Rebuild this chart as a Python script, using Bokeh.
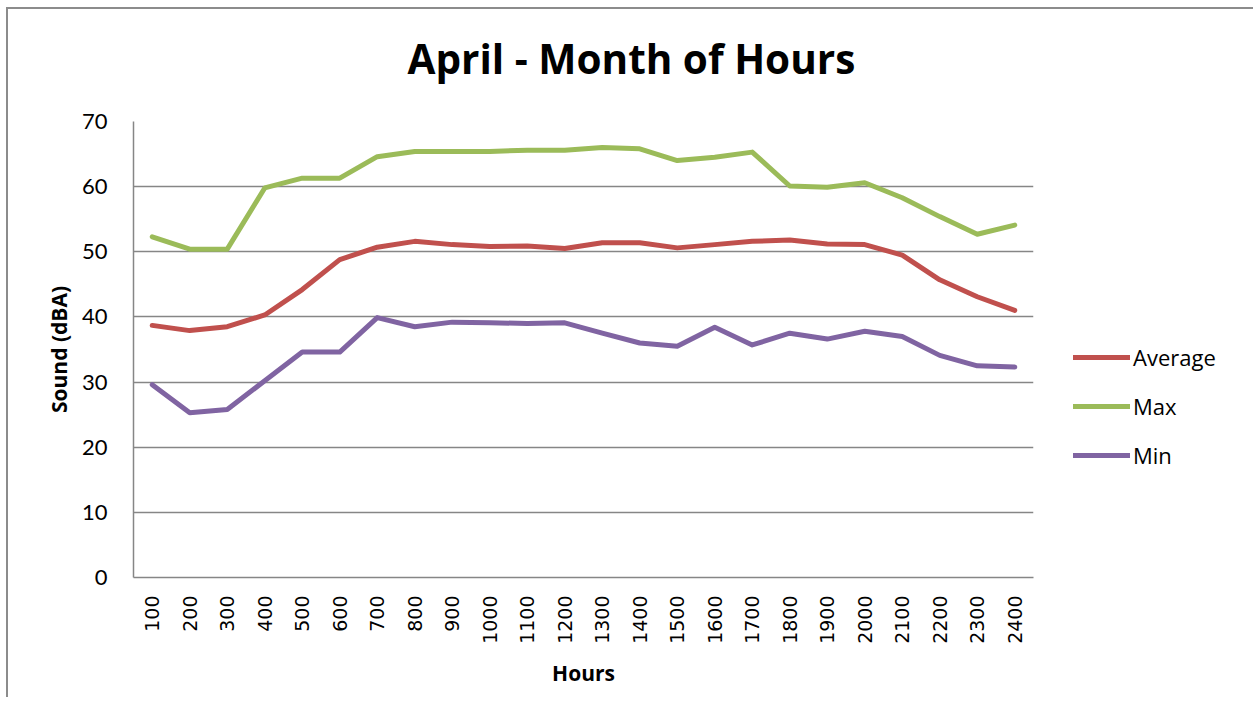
from bokeh.plotting import figure
from bokeh.models import Range1d, FactorRange, Legend, LegendItem, Title, SingleIntervalTicker
from bokeh.embed import file_html
from bokeh.resources import INLINE
import math

hours = ["100", "200", "300", "400", "500", "600", "700", "800", "900", "1000", "1100", "1200",
         "1300", "1400", "1500", "1600", "1700", "1800", "1900", "2000", "2100", "2200", "2300", "2400"]
average = [38.7, 37.9, 38.5, 40.3, 44.2, 48.8, 50.7, 51.6, 51.1, 50.8, 50.9, 50.5,
           51.4, 51.4, 50.6, 51.1, 51.6, 51.8, 51.2, 51.1, 49.5, 45.7, 43.1, 41.0]
maximum = [52.3, 50.4, 50.4, 59.8, 61.3, 61.3, 64.6, 65.4, 65.4, 65.4, 65.6, 65.6,
           66.0, 65.8, 64.0, 64.5, 65.3, 60.1, 59.9, 60.6, 58.3, 55.4, 52.7, 54.1]
minimum = [29.6, 25.3, 25.8, 30.2, 34.6, 34.6, 39.9, 38.5, 39.2, 39.1, 39.0, 39.1,
           37.5, 36.0, 35.5, 38.4, 35.7, 37.5, 36.6, 37.8, 37.0, 34.1, 32.5, 32.3]
series_names = ["Average", "Max", "Min"]
colors = ["#C0504D", "#9BBB59", "#8064A2"]
title_text = "April - Month of Hours"

p = figure(x_range=FactorRange(factors=hours, range_padding=0),
           y_range=Range1d(0, 70),
           frame_width=900, frame_height=456,
           min_border_left=125, min_border_right=190, min_border_top=100, min_border_bottom=120,
           output_backend="svg", toolbar_location=None, title=None)
p.outline_line_color = None
p.background_fill_color = "white"
p.border_fill_color = "white"
p.styles = {"border-left": "2px solid #8c8c8c", "border-top": "2px solid #8c8c8c",
            "margin-left": "6px", "margin-top": "7px"}

# axes
p.yaxis.ticker = SingleIntervalTicker(interval=10)
for ax in (p.xaxis[0], p.yaxis[0]):
    ax.axis_line_color = "#868686"
    ax.axis_line_width = 1.5
    ax.major_tick_in = 0
    ax.major_tick_out = 0
    ax.minor_tick_in = 0
    ax.minor_tick_out = 0
    ax.major_label_text_color = "black"
    ax.axis_label_text_color = "black"
    ax.axis_label_text_font = "Open Sans"
    ax.axis_label_text_font_style = "bold"
    ax.axis_label_text_font_size = "21px"

p.yaxis.major_label_text_font = "Lato"
p.yaxis.major_label_text_font_size = "22px"
p.yaxis.major_label_standoff = 26
p.yaxis.axis_label = "Sound (dBA)"
p.yaxis.axis_label_standoff = 6

p.xaxis.major_label_text_font = "DejaVu Sans"
p.xaxis.major_label_text_font_size = "19px"
p.xaxis.major_label_orientation = math.pi / 2
p.xaxis.major_label_standoff = 18
p.xaxis.axis_label = "Hours"
p.xaxis.axis_label_standoff = 12

p.xgrid.grid_line_color = None
p.ygrid.grid_line_color = "#868686"
p.ygrid.grid_line_width = 1.5

renderers = []
for vals, name, col in zip([average, maximum, minimum], series_names, colors):
    r = p.line(hours, vals, line_color=col, line_width=5, line_join="round", line_cap="round")
    renderers.append(r)

legend = Legend(items=[LegendItem(label=n, renderers=[r]) for n, r in zip(series_names, renderers)],
                location=(40, 107), orientation="vertical",
                glyph_width=57, glyph_height=24, label_height=24, spacing=19,
                label_standoff=3, padding=0, margin=0,
                border_line_color=None, background_fill_alpha=0,
                label_text_font="Open Sans", label_text_font_size="22px", label_text_color="black")
p.add_layout(legend, "right")

spacer = Title(text=" ", standoff=1, text_font="Open Sans", text_font_size="10px")
p.add_layout(spacer, "above")
title = Title(text=title_text, align="left", offset=274, standoff=38, vertical_align="bottom",
              text_font="Open Sans", text_font_style="bold", text_font_size="40.5px",
              text_color="black")
p.add_layout(title, "above")

open("out.html", "w").write(file_html(p, INLINE))
